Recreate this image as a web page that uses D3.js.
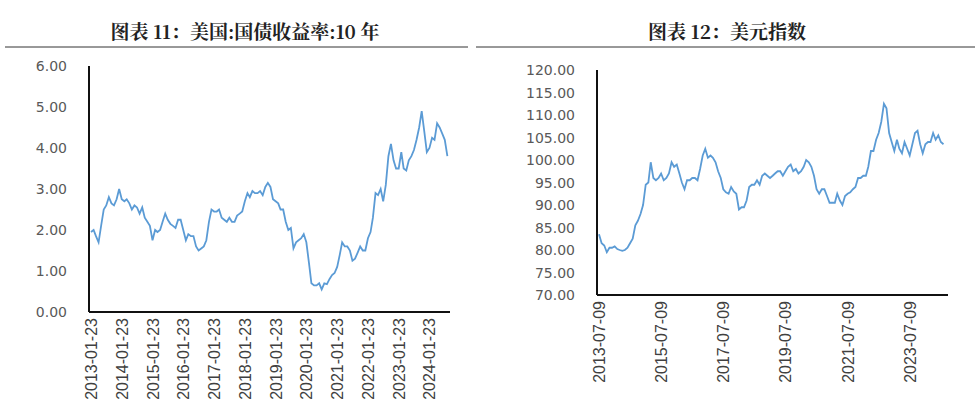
<!DOCTYPE html>
<html><head><meta charset="utf-8">
<script src="https://cdn.jsdelivr.net/npm/d3@7"></script>
<style>body{margin:0;background:#fff}</style>
</head><body><div id="d3"></div>
<script>
// 10y treasury yield, monthly from 2013-01
var yieldStart = "2013-01-23";
var yieldValues = [
 1.95,2.0,1.85,1.7,2.1,2.5,2.6,2.8,2.65,2.6,2.75,3.0,
 2.75,2.7,2.75,2.65,2.5,2.6,2.55,2.4,2.55,2.3,2.2,2.1,
 1.75,2.0,1.95,2.0,2.2,2.4,2.25,2.15,2.1,2.05,2.25,2.25,
 2.0,1.75,1.9,1.85,1.85,1.6,1.5,1.55,1.6,1.75,2.2,2.5,
 2.45,2.45,2.5,2.3,2.25,2.2,2.3,2.2,2.2,2.35,2.4,2.45,
 2.7,2.9,2.8,2.95,2.9,2.9,2.95,2.85,3.05,3.15,3.05,2.75,
 2.7,2.65,2.5,2.5,2.2,2.0,2.05,1.55,1.7,1.75,1.8,1.9,
 1.7,1.2,0.7,0.65,0.65,0.7,0.55,0.7,0.68,0.8,0.9,0.95,
 1.1,1.4,1.7,1.6,1.6,1.5,1.25,1.3,1.45,1.6,1.5,1.5,
 1.8,1.95,2.3,2.9,2.85,3.0,2.7,3.1,3.8,4.1,3.7,3.5,
 3.5,3.9,3.5,3.45,3.7,3.8,3.95,4.2,4.5,4.9,4.4,3.9,
 4.0,4.25,4.2,4.6,4.5,4.35,4.2,3.8];
var yieldTicks = ["2013-01-23","2014-01-23","2015-01-23","2016-01-23","2017-01-23","2018-01-23",
 "2019-01-23","2020-01-23","2021-01-23","2022-01-23","2023-01-23","2024-01-23"];
var yieldYTicks = [0,1,2,3,4,5,6];

// dollar index, monthly from 2013-07
var dxyStart = "2013-07-09";
var dxyValues = [
 83.5,81.5,81,79.5,80.5,80.5,
 80.8,80.2,80,79.8,80,80.5,81.5,82.5,85.5,86.5,88,90,
 94.5,95,99.5,96,95.5,96,97,95.5,96,97,99.5,98.5,
 99,97,95,93.5,95.5,95.5,96,96,95.5,98,101,102.5,
 100.5,101,100.5,99.5,97.5,96,93.5,92.8,92.5,94,93,92.5,
 89,89.5,89.5,91,94,94.5,94.5,95.5,94.5,96.5,97,96.5,
 96,96.5,97,97.5,97.5,96.5,97.5,98.5,99,97.5,98,97,
 97.5,98.5,100,99.5,98.5,96.5,93.5,92.5,93.5,93.5,92,90.5,
 90.5,90.5,92.5,91,90,92,92.5,92.8,93.5,94,96,96,
 96.5,96.5,98.5,102,102,104.5,106,108.5,112.5,111.5,106,104,
 102,104.5,102.5,101.5,104,102.5,101,103.5,106,106.5,103.5,101.5,
 103.5,104,104,106,104.5,105.5,104,103.5];
var dxyTicks = ["2013-07-09","2015-07-09","2017-07-09","2019-07-09","2021-07-09","2023-07-09"];
var dxyYTicks = [70,75,80,85,90,95,100,105,110,115,120];

var parse = d3.timeParse("%Y-%m-%d");
function series(start, vals) {
  var s = parse(start);
  return vals.map(function(v, i) { return {d: d3.timeMonth.offset(s, i), v: v}; });
}

var svg = d3.select("#d3").append("svg").attr("width", 978).attr("height", 405);

function panel(o) {
  svg.append("text").attr("x", o.tx).attr("y", 39).attr("text-anchor", "middle")
    .style("font-family", "'Noto Serif CJK SC','Noto Sans CJK SC',serif").style("font-weight", "bold")
    .style("font-size", "19px").attr("fill", "#222").text(o.title);
  svg.append("line").attr("x1", o.lx1).attr("x2", o.lx2).attr("y1", 47).attr("y2", 47)
    .attr("stroke", "#333").attr("stroke-width", 1);

  var data = series(o.start, o.vals);
  var x = d3.scaleTime().domain([parse(o.ticks[0]), o.xEnd]).range([o.x0 + 2, o.x1]);
  var y = d3.scaleLinear().domain(o.yDom).range([o.y0, o.y1]);

  var g = svg.append("g");
  g.selectAll(".yl").data(o.yTicks).enter().append("text")
    .attr("x", o.x0 - 22).attr("y", function(d) { return y(d) + 5; })
    .attr("text-anchor", "end").attr("fill", "#595959")
    .style("font-family", "'DejaVu Sans'").style("font-size", "14px")
    .text(function(d) { return d.toFixed(2); });
  g.selectAll(".xl").data(o.ticks).enter().append("text")
    .attr("transform", function(d) { return "translate(" + (x(parse(d)) + 6) + "," + (o.y0 + 6) + ") rotate(-90)"; })
    .attr("text-anchor", "end").attr("fill", "#404040")
    .style("font-family", "'Liberation Sans Narrow','Liberation Sans'").style("font-size", "16px")
    .text(function(d) { return d; });

  g.append("path").datum(data).attr("fill", "none").attr("stroke", "#5b9bd5").attr("stroke-width", 1.8)
    .attr("d", d3.line().x(function(d) { return x(d.d); }).y(function(d) { return y(d.v); }));

  g.append("line").attr("x1", o.x0).attr("x2", o.x0).attr("y1", o.y1).attr("y2", o.y0).attr("stroke", "#111").attr("stroke-width", 2);
  g.append("line").attr("x1", o.x0).attr("x2", o.x1).attr("y1", o.y0).attr("y2", o.y0).attr("stroke", "#111").attr("stroke-width", 2);
}

panel({title: "图表 11：美国:国债收益率:10 年", tx: 245, lx1: 5, lx2: 468,
  start: yieldStart, vals: yieldValues, ticks: yieldTicks, yTicks: yieldYTicks,
  xEnd: parse("2024-09-23"), yDom: [0, 6], x0: 89, x1: 450, y0: 312, y1: 66});
panel({title: "图表 12：美元指数", tx: 727, lx1: 476, lx2: 975,
  start: dxyStart, vals: dxyValues, ticks: dxyTicks, yTicks: dxyYTicks,
  xEnd: parse("2024-10-01"), yDom: [70, 120], x0: 597, x1: 948, y0: 295, y1: 70});
</script></body></html>
